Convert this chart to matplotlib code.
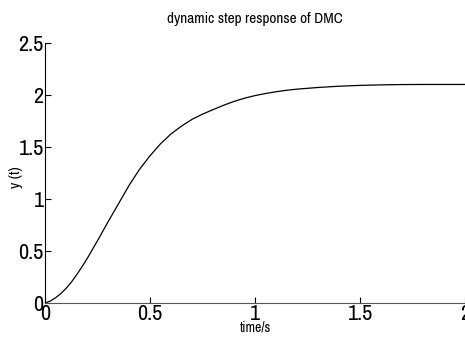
import numpy as np
import matplotlib
matplotlib.use('Agg')
import matplotlib.pyplot as plt

# values
t = [0, 0.025, 0.05, 0.075, 0.1, 0.125, 0.15, 0.175, 0.2, 0.25, 0.3, 0.35, 0.4,
     0.45, 0.5, 0.55, 0.6, 0.65, 0.7, 0.75, 0.8, 0.85, 0.9, 0.95, 1.0, 1.05,
     1.1, 1.15, 1.2, 1.3, 1.4, 1.5, 1.6, 1.7, 1.8, 1.9, 2.0]
y = [0, 0.018, 0.05, 0.09, 0.14, 0.2, 0.27, 0.345, 0.425, 0.6, 0.78, 0.955, 1.13,
     1.285, 1.415, 1.53, 1.625, 1.70, 1.765, 1.815, 1.858, 1.90, 1.937, 1.968, 1.993, 2.013,
     2.03, 2.044, 2.055, 2.071, 2.083, 2.091, 2.096, 2.099, 2.10, 2.10, 2.10]
xticks = [0, 0.5, 1, 1.5, 2]
yticks = [0, 0.5, 1, 1.5, 2, 2.5]

# narrow font like matlab's default export
plt.rcParams['font.family'] = ['Liberation Sans Narrow', 'Archivo Narrow',
                               'Liberation Sans', 'DejaVu Sans']

fig = plt.figure(figsize=(4.65, 3.4), dpi=100)
ax = fig.add_axes([0.097, 0.109, 0.903, 0.765])

ax.plot(t, y, color='black', linewidth=0.9)

ax.set_xlim(0, 2)
ax.set_ylim(0, 2.5)
ax.set_xticks(xticks)
ax.set_xticklabels(['0', '0.5', '1', '1.5', '2'])
ax.set_yticks(yticks)
ax.set_yticklabels(['0', '0.5', '1', '1.5', '2', '2.5'])

ax.spines['top'].set_visible(False)
ax.spines['right'].set_visible(False)
ax.spines['left'].set_color('black')
ax.spines['bottom'].set_color('#555555')
ax.tick_params(direction='in', length=4, width=0.8, labelsize=16, pad=1)

ax.set_title('dynamic step response of DMC', fontsize=11, pad=14)
ax.set_xlabel('time/s', fontsize=10, labelpad=-3)
ax.set_ylabel('y (t)', fontsize=11)
ax.yaxis.set_label_coords(-0.053, 0.485)

fig.savefig('out.png', dpi=100)
